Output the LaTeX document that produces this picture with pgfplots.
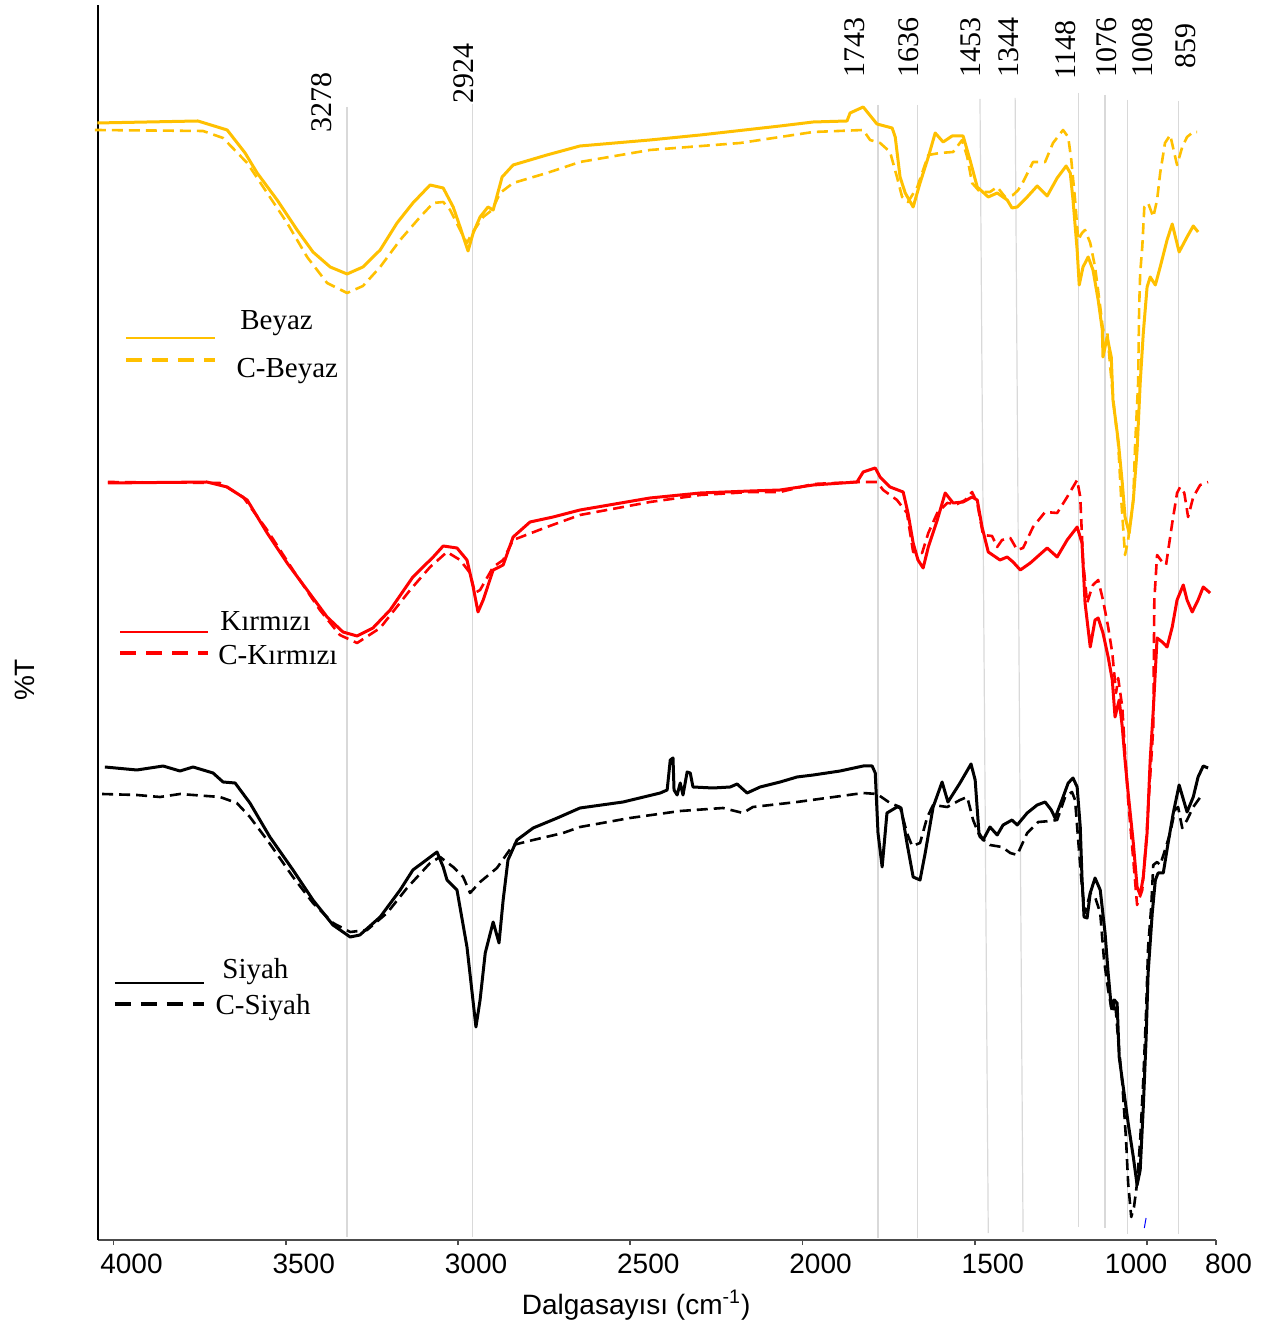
\documentclass[border=0pt]{standalone}
\usepackage{pgfplots}
\pgfplotsset{compat=1.18}
\usepackage{fontspec}
\setmainfont{Liberation Serif}
\newfontfamily\arialf{Liberation Sans}
\definecolor{gold}{HTML}{FFC000}
\definecolor{refl}{HTML}{D9D9D9}
\newcommand{\lblfont}{\fontsize{15bp}{17bp}\selectfont}
\newcommand{\tickfont}{\arialf\fontsize{14bp}{16bp}\selectfont}
\newcommand{\legfont}{\fontsize{14.5bp}{17bp}\selectfont}
\begin{document}
\begin{tikzpicture}
\begin{axis}[
  width=559bp, height=617.5bp, scale only axis,
  xmin=800, xmax=4045, ymin=0, ymax=1235,
  x dir=reverse, clip=false,
  axis x line*=bottom, axis y line*=left,
  ytick=\empty,
  xtick={4000,3500,3000,2500,2000,1500,1000,800},
  xticklabels={4000,3500,3000,2500,2000,1500,{\hspace*{-29bp}1000},{\hspace*{-5.5bp}800}},
  xticklabel style={font=\tickfont, inner sep=0pt, yshift=-4.5bp, xshift=9bp},
  tick align=outside, major tick length=2.5bp,
  x tick style={black!70, line width=0.8bp},
  x axis line style={draw=black!70, line width=1bp},
  y axis line style={draw=black, line width=0.8bp},
  solidline/.style={line width=1.5bp, line join=round},
  dashline/.style={line width=1.3bp, line join=round, dash pattern=on 5.5bp off 3bp},
]
\coordinate (BL) at (axis cs:4045,0);
\coordinate (TR) at (axis cs:800,1235);
% reference lines
\draw[refl, line width=0.6bp] (axis cs:3322,1133) -- (axis cs:3322,3);
\draw[refl, line width=0.6bp] (axis cs:2959,1136) -- (axis cs:2959,3);
\draw[refl, line width=0.6bp] (axis cs:1781,1135) -- (axis cs:1781,2);
\draw[refl, line width=0.6bp] (axis cs:1666,1135) -- (axis cs:1666,2);
\draw[refl, line width=0.6bp] (axis cs:1485,1141) -- (axis cs:1461,7);
\draw[refl, line width=0.6bp] (axis cs:1383,1142) -- (axis cs:1360,8);
\draw[refl, line width=0.6bp] (axis cs:1200,1147) -- (axis cs:1200,13);
\draw[refl, line width=0.6bp] (axis cs:1122,1145) -- (axis cs:1122,12);
\draw[refl, line width=0.6bp] (axis cs:1056,1140) -- (axis cs:1056,6);
\draw[refl, line width=0.6bp] (axis cs:910,1139) -- (axis cs:910,6);
% peak labels
\begin{scope}[every node/.style={rotate=90, anchor=west, inner sep=0pt, font=\lblfont}]
\node at (axis cs:3395,1107) {3278};
\node at (axis cs:2983,1136) {2924};
\node at (axis cs:1850,1162) {1743};
\node at (axis cs:1691,1162) {1636};
\node at (axis cs:1512,1162) {1453};
\node at (axis cs:1402,1162) {1344};
\node at (axis cs:1235,1160) {1148};
\node at (axis cs:1117,1162) {1076};
\node at (axis cs:1013,1162) {1008};
\node at (axis cs:887,1171) {859};
\end{scope}
% Beyaz
\addplot[gold, solidline] coordinates {(4047,1117) (3755,1119) (3670,1110) (3618,1087) (3583,1067) (3525,1040) (3467,1010) (3421,988) (3371,973) (3322,966) (3276,973) (3226,990) (3177,1017) (3131,1037) (3081,1055) (3043,1052) (3014,1033) (2994,1013) (2971,989) (2956,1007) (2936,1023) (2913,1033) (2898,1030) (2872,1063) (2840,1075) (2742,1085) (2646,1094) (2443,1100) (2297,1105) (2065,1114) (1969,1118) (1871,1119) (1862,1127) (1824,1133) (1784,1116) (1740,1112) (1731,1103) (1717,1063) (1702,1047) (1679,1033) (1659,1057) (1635,1083) (1615,1107) (1592,1098) (1566,1104) (1534,1104) (1514,1080) (1493,1053) (1461,1043) (1435,1047) (1406,1040) (1392,1032) (1377,1033) (1348,1043) (1319,1054) (1290,1044) (1261,1062) (1235,1074) (1223,1067) (1215,1040) (1203,990) (1197,955) (1186,973) (1171,983) (1157,970) (1142,940) (1130,910) (1128,883) (1116,903) (1104,883) (1099,840) (1084,800) (1072,757) (1064,723) (1052,707) (1040,740) (1029,790) (1020,857) (1011,907) (1000,953) (991,963) (976,955) (962,973) (942,1000) (927,1016) (907,988) (884,1003) (866,1014) (852,1008)};
\addplot[gold, dashline] coordinates {(4054,1110) (3740,1109) (3682,1102) (3612,1077) (3554,1047) (3496,1017) (3438,983) (3380,957) (3322,947) (3276,954) (3226,973) (3168,1000) (3110,1023) (3072,1037) (3043,1038) (3023,1030) (2994,1010) (2974,997) (2959,1007) (2927,1023) (2901,1030) (2878,1047) (2840,1057) (2742,1067) (2646,1078) (2443,1090) (2181,1097) (2065,1103) (1969,1108) (1824,1110) (1804,1100) (1775,1097) (1746,1088) (1726,1063) (1711,1043) (1694,1038) (1667,1053) (1635,1085) (1601,1087) (1563,1088) (1537,1100) (1522,1083) (1508,1057) (1485,1048) (1456,1048) (1435,1053) (1412,1043) (1389,1045) (1374,1050) (1360,1058) (1331,1078) (1296,1078) (1273,1097) (1244,1110) (1229,1103) (1220,1080) (1209,1040) (1200,1000) (1189,1007) (1180,1010) (1165,997) (1151,973) (1136,933) (1128,910) (1116,910) (1107,873) (1096,833) (1084,797) (1075,740) (1064,685) (1055,700) (1040,740) (1035,793) (1026,857) (1023,933) (1020,967) (1014,993) (1008,1033) (997,1037) (982,1023) (971,1040) (962,1067) (948,1097) (933,1105) (913,1075) (898,1093) (884,1103) (866,1108) (855,1108)};
% Kirmizi
\addplot[red, solidline] coordinates {(4016,757) (3729,758) (3670,753) (3612,740) (3554,707) (3496,677) (3438,650) (3380,623) (3334,608) (3293,604) (3247,612) (3197,630) (3131,663) (3072,683) (3043,694) (3003,692) (2974,680) (2956,653) (2942,628) (2927,640) (2898,670) (2869,675) (2840,703) (2791,718) (2724,723) (2646,730) (2443,742) (2297,747) (2152,749) (2065,750) (1969,755) (1842,758) (1824,768) (1789,772) (1775,763) (1746,753) (1708,748) (1694,727) (1679,697) (1665,680) (1650,672) (1635,693) (1609,720) (1586,747) (1563,737) (1534,738) (1508,743) (1493,740) (1479,713) (1461,688) (1427,680) (1406,683) (1389,678) (1368,670) (1339,677) (1290,692) (1261,683) (1232,700) (1203,713) (1189,697) (1180,637) (1165,593) (1151,620) (1142,622) (1128,607) (1113,583) (1101,560) (1093,523) (1081,540) (1072,513) (1064,480) (1055,447) (1040,397) (1029,353) (1020,345) (1011,363) (1000,407) (991,480) (982,530) (971,602) (956,598) (942,593) (927,613) (913,640) (895,655) (884,640) (869,628) (852,640) (837,653) (817,647)};
\addplot[red, dashline] coordinates {(4016,758) (3691,757) (3624,743) (3554,710) (3479,670) (3401,630) (3343,605) (3293,597) (3226,612) (3139,650) (3081,673) (3032,688) (2994,680) (2965,667) (2951,647) (2936,650) (2898,673) (2869,680) (2840,700) (2742,713) (2646,725) (2443,738) (2297,745) (2152,748) (2065,748) (1969,756) (1842,758) (1784,758) (1766,750) (1726,740) (1697,727) (1679,688) (1653,687) (1635,707) (1609,727) (1580,737) (1551,736) (1528,740) (1508,748) (1493,737) (1476,705) (1450,704) (1435,693) (1421,700) (1397,702) (1377,690) (1360,692) (1331,713) (1296,728) (1261,727) (1232,743) (1203,760) (1194,743) (1186,680) (1174,637) (1165,647) (1157,655) (1142,660) (1128,640) (1113,613) (1101,587) (1090,547) (1084,562) (1072,533) (1064,487) (1055,440) (1040,380) (1029,335) (1014,350) (1003,397) (994,447) (982,513) (979,640) (971,685) (956,678) (945,675) (927,717) (913,747) (904,753) (892,747) (881,723) (866,743) (846,755) (823,758)};
% Siyah
\addplot[black, solidline] coordinates {(4025,473) (3932,470) (3856,474) (3807,469) (3769,473) (3711,467) (3682,458) (3647,457) (3604,437) (3546,403) (3479,370) (3421,340) (3363,315) (3313,303) (3285,305) (3226,323) (3168,350) (3131,370) (3061,388) (3043,373) (3032,360) (3003,350) (2974,293) (2959,247) (2948,213) (2936,240) (2921,287) (2898,318) (2881,297) (2869,340) (2855,380) (2829,400) (2782,412) (2712,422) (2646,432) (2521,438) (2413,447) (2393,450) (2384,480) (2376,482) (2373,450) (2364,445) (2355,457) (2347,445) (2335,468) (2326,467) (2318,453) (2260,452) (2210,453) (2190,456) (2161,447) (2123,453) (2065,458) (2016,463) (1969,465) (1891,469) (1824,474) (1798,474) (1789,467) (1781,407) (1769,373) (1755,427) (1726,433) (1714,432) (1697,397) (1679,363) (1659,360) (1644,387) (1621,433) (1595,458) (1578,438) (1543,457) (1511,476) (1499,460) (1488,407) (1476,400) (1456,413) (1435,405) (1418,415) (1392,420) (1377,415) (1348,427) (1319,435) (1296,438) (1278,430) (1267,422) (1247,440) (1229,457) (1215,462) (1203,453) (1194,413) (1189,363) (1183,323) (1174,322) (1165,347) (1151,362) (1136,350) (1122,307) (1113,267) (1104,233) (1096,240) (1087,237) (1081,183) (1072,160) (1064,140) (1055,117) (1040,83) (1029,55) (1020,70) (1011,133) (1003,200) (997,267) (985,327) (976,360) (968,367) (953,367) (939,397) (924,427) (907,455) (884,428) (866,443) (852,463) (837,474) (823,472)};
\addplot[black, dashline] coordinates {(4033,446) (3932,445) (3865,443) (3807,446) (3691,443) (3642,437) (3604,423) (3554,400) (3479,363) (3421,337) (3363,317) (3313,308) (3264,310) (3206,327) (3148,352) (3081,377) (3052,383) (3014,373) (2985,363) (2965,347) (2936,358) (2887,372) (2840,395) (2782,400) (2695,407) (2646,413) (2501,422) (2355,429) (2231,432) (2173,427) (2144,433) (2016,438) (1824,447) (1784,446) (1746,437) (1717,433) (1697,407) (1682,394) (1659,397) (1638,423) (1621,435) (1580,433) (1543,440) (1522,443) (1505,420) (1485,403) (1456,395) (1421,393) (1397,387) (1377,385) (1348,407) (1316,418) (1281,419) (1261,420) (1238,443) (1218,448) (1209,440) (1200,400) (1189,353) (1180,327) (1165,347) (1151,343) (1136,327) (1125,280) (1113,250) (1101,227) (1093,240) (1084,200) (1072,157) (1061,100) (1055,57) (1046,23) (1038,33) (1029,57) (1020,100) (1011,160) (1003,227) (997,293) (988,333) (982,375) (971,378) (962,375) (948,390) (933,407) (919,430) (910,433) (898,412) (884,420) (866,433) (837,447)};
\draw[blue, line width=0.5bp] (axis cs:1008,12) -- (axis cs:1003,22);
% manual legends
\draw[gold, line width=0.6bp] (axis cs:3964,902) -- (axis cs:3705,902);
\draw[gold, line width=1.8bp, dash pattern=on 8bp off 5bp] (axis cs:3964,880) -- (axis cs:3705,880);
\node[anchor=base west, inner sep=0pt, font=\legfont] at (axis cs:3633,910) {Beyaz};
\node[anchor=base west, inner sep=0pt, font=\legfont] at (axis cs:3644,862) {C-Beyaz};
\draw[red, line width=0.6bp] (axis cs:3981,608) -- (axis cs:3726,608);
\draw[red, line width=1.8bp, dash pattern=on 8bp off 5bp] (axis cs:3981,587) -- (axis cs:3726,587);
\node[anchor=base west, inner sep=0pt, font=\legfont] at (axis cs:3691,609) {Kırmızı};
\node[anchor=base west, inner sep=0pt, font=\legfont] at (axis cs:3697,575) {C-Kırmızı};
\draw[black, line width=0.6bp] (axis cs:3996,257) -- (axis cs:3737,257);
\draw[black, line width=1.8bp, dash pattern=on 8bp off 5bp] (axis cs:3996,236) -- (axis cs:3737,236);
\node[anchor=base west, inner sep=0pt, font=\legfont] at (axis cs:3685,261) {Siyah};
\node[anchor=base west, inner sep=0pt, font=\legfont] at (axis cs:3705,225) {C-Siyah};
% axis titles
\node[rotate=90, font=\tickfont] at ([xshift=-36.5bp]axis cs:4045,560) {\%T};
\node[font=\tickfont] at ([yshift=-32.5bp]axis cs:2483,0) {Dalgasayısı (cm\textsuperscript{-1})};
\end{axis}
\pgfresetboundingbox
\path ([xshift=-49bp,yshift=-43.5bp]BL) rectangle ([xshift=27bp,yshift=2.5bp]TR);
\end{tikzpicture}
\end{document}
